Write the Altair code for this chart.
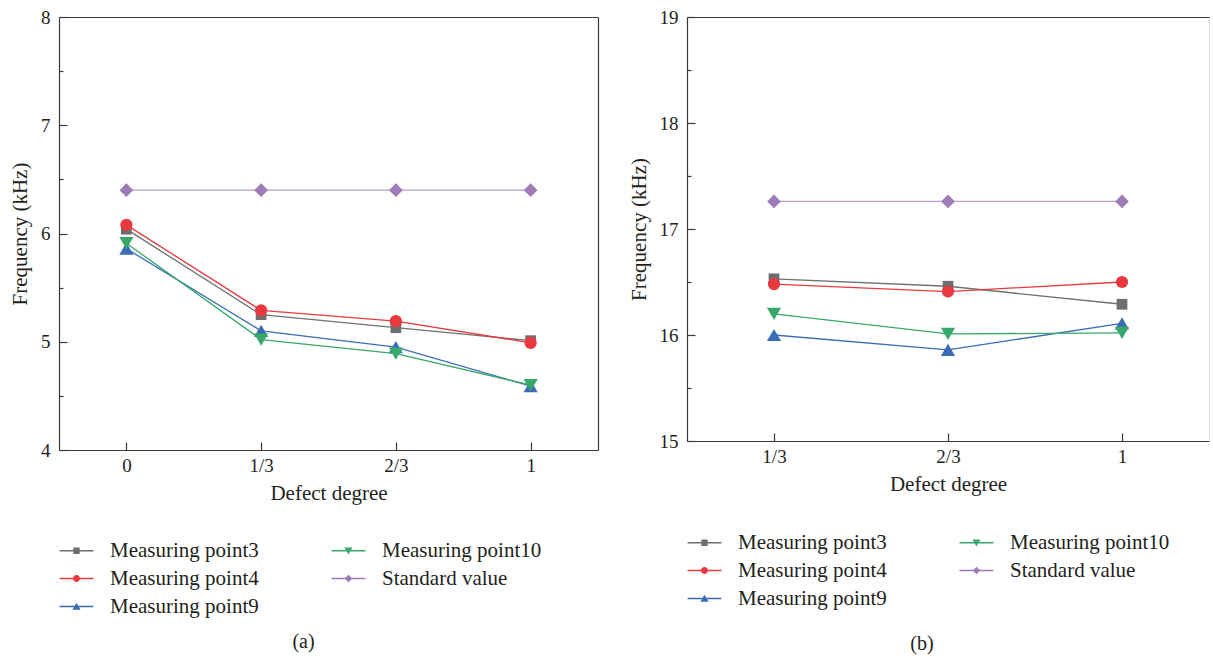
import altair as alt
import pandas as pd

# ---------------- data ----------------
series_names = ["Measuring point3", "Measuring point4", "Measuring point9",
                "Measuring point10", "Standard value"]

degrees_a = ["0", "1/3", "2/3", "1"]
mp3_a = [6.04, 5.25, 5.13, 5.01]
mp4_a = [6.08, 5.29, 5.19, 4.99]
mp9_a = [5.86, 5.10, 4.95, 4.59]
mp10_a = [5.91, 5.02, 4.89, 4.60]
std_a = [6.40, 6.40, 6.40, 6.40]

degrees_b = ["1/3", "2/3", "1"]
mp3_b = [16.53, 16.46, 16.29]
mp4_b = [16.48, 16.41, 16.50]
mp9_b = [16.00, 15.86, 16.11]
mp10_b = [16.20, 16.01, 16.02]
std_b = [17.26, 17.26, 17.26]

ymajor_a = [4, 5, 6, 7, 8]
yminor_a = [4.5, 5.5, 6.5, 7.5]
ymajor_b = [15, 16, 17, 18, 19]
yminor_b = [15.5, 16.5, 17.5, 18.5]

# ---------------- styles ----------------
FONT = "'Liberation Serif', 'Times New Roman', Times, serif"
TXT = "#231f20"
AX = "#3a3a3a"

line_colors = {
    "Measuring point3": "#6f7072",
    "Measuring point4": "#e8393e",
    "Measuring point9": "#3a6db5",
    "Measuring point10": "#37a96a",
    "Standard value": "#b79fcf",
}
marker_colors = {
    "Measuring point3": "#6d6e71",
    "Measuring point4": "#e8393e",
    "Measuring point9": "#3a6db5",
    "Measuring point10": "#37a96a",
    "Standard value": "#9e7cb8",
}
marker_shapes = {
    "Measuring point3": ("square", 115),
    "Measuring point4": ("circle", 150),
    "Measuring point9": ("triangle-up", 200),
    "Measuring point10": ("triangle-down", 200),
    "Standard value": ("diamond", 190),
}
LINE = "M-1.17,-0.05H1.17V0.05H-1.17Z"
legend_marks = {
    "Measuring point3": "M-0.22,-0.22H0.22V0.22H-0.22Z",
    "Measuring point4": "M-0.24,0A0.24,0.24,0,1,1,0.24,0A0.24,0.24,0,1,1,-0.24,0Z",
    "Measuring point9": "M0,-0.26L0.28,0.22H-0.28Z",
    "Measuring point10": "M0,0.26L-0.28,-0.22H0.28Z",
    "Standard value": "M0,-0.26L0.26,0L0,0.26L-0.26,0Z",
}
legend_colors = [marker_colors[s] for s in series_names]
legend_paths = [LINE + legend_marks[s] for s in series_names]


def panel(degrees, values, ydomain, ymajor, yminor, width, height,
          label, label_dx, label_offset, legend_y, right_border):
    rows = []
    for name, vals in zip(series_names, values):
        for d, v in zip(degrees, vals):
            rows.append({"degree": d, "freq": v, "series": name})
    df = pd.DataFrame(rows)

    xscale = alt.Scale(type="point", domain=degrees, padding=0.5)
    yscale = alt.Scale(domain=ydomain, nice=False, zero=False)

    def X(axis):
        return alt.X("degree:N", scale=xscale, sort=degrees, axis=axis)

    def Y(axis):
        return alt.Y("freq:Q", scale=yscale, axis=axis)

    main_x = alt.Axis(title="Defect degree", orient="bottom", domain=True,
                      domainColor=AX, domainWidth=1.2, ticks=False, tickSize=0,
                      labelAngle=0, labelPadding=6, labelFont=FONT,
                      labelFontSize=19, labelColor=TXT, titleFont=FONT,
                      titleFontSize=21, titleFontWeight="normal",
                      titleColor=TXT, titlePadding=7, grid=False)
    main_y = alt.Axis(title="Frequency (kHz)", orient="left", values=ymajor,
                      domain=True, domainColor=AX, domainWidth=1.2,
                      ticks=False, tickSize=0, labelPadding=9,
                      labelFont=FONT, labelFontSize=19, labelColor=TXT,
                      titleFont=FONT, titleFontSize=21,
                      titleFontWeight="normal", titleColor=TXT,
                      titlePadding=10, grid=False)
    tick_x = alt.Axis(title=None, orient="bottom", offset=-8, domain=False,
                      labels=False, ticks=True, tickSize=8, tickColor=AX,
                      tickWidth=1.2, grid=False)
    tick_y = alt.Axis(title=None, orient="left", values=ymajor, offset=-8,
                      domain=False, labels=False, ticks=True, tickSize=8,
                      tickColor=AX, tickWidth=1.2, grid=False)
    minor_y = alt.Axis(title=None, orient="left", values=yminor, offset=-4,
                       domain=False, labels=False, ticks=True, tickSize=4,
                       tickColor=AX, tickWidth=1.2, grid=False)
    top_x = alt.Axis(title=None, orient="top", domain=True, domainColor=AX,
                     domainWidth=1.2, labels=False, ticks=False, grid=False)
    right_y = alt.Axis(title=None, orient="right", domain=True,
                       domainColor=AX, domainWidth=1.2, labels=False,
                       ticks=False, grid=False)

    leg = dict(title=None, orient="none", legendX=3, legendY=legend_y,
               columns=2, columnPadding=72, rowPadding=3, symbolSize=841,
               symbolOpacity=1, symbolStrokeWidth=0, labelFont=FONT,
               labelFontSize=21, labelColor=TXT, labelOffset=19,
               labelLimit=400)

    base = alt.Chart(df)
    layers = [
        base.mark_point(filled=True, opacity=0).encode(
            x=X(main_x), y=Y(main_y),
            color=alt.Color("series:N",
                            scale=alt.Scale(domain=series_names,
                                            range=legend_colors),
                            legend=alt.Legend(**leg)),
            shape=alt.Shape("series:N",
                            scale=alt.Scale(domain=series_names,
                                            range=legend_paths),
                            legend=alt.Legend(**leg)),
        )
    ]
    extra_axes = [(tick_x, tick_y), (top_x, minor_y)]
    if right_border:
        extra_axes.append((None, right_y))
    k = 0
    for name in series_names:
        sub = base.transform_filter(alt.datum.series == name)
        for kind in ("line", "point"):
            if k < len(extra_axes):
                ax_x, ax_y = extra_axes[k]
            else:
                ax_x, ax_y = None, None
            k += 1
            if kind == "line":
                m = sub.mark_line(color=line_colors[name], strokeWidth=1.3)
            else:
                shp, sz = marker_shapes[name]
                m = sub.mark_point(shape=shp, size=sz, filled=True,
                                   opacity=1, color=marker_colors[name])
            layers.append(m.encode(x=X(ax_x), y=Y(ax_y)))

    return alt.layer(*layers).resolve_axis(
        x="independent", y="independent"
    ).properties(
        width=width, height=height,
        title=alt.Title(label, orient="bottom", anchor="middle", dx=label_dx,
                        offset=label_offset, font=FONT, fontSize=20,
                        fontWeight="normal", color=TXT),
    )


left = panel(degrees_a, [mp3_a, mp4_a, mp9_a, mp10_a, std_a], [4, 8],
             ymajor_a, yminor_a, 539, 433, "(a)", -25, 15, 519, True)
right = panel(degrees_b, [mp3_b, mp4_b, mp9_b, mp10_b, std_b], [15, 19],
              ymajor_b, yminor_b, 522, 424, "(b)", -26, 25, 511, False)

chart = alt.hconcat(left, right, spacing=28).resolve_scale(
    color="independent", shape="independent"
).properties(
    padding={"left": 9, "top": 7, "right": 0, "bottom": 0}
).configure_view(stroke=None).configure(font=FONT)

chart.save("out.html", embed_options={"renderer": "svg", "actions": False})
